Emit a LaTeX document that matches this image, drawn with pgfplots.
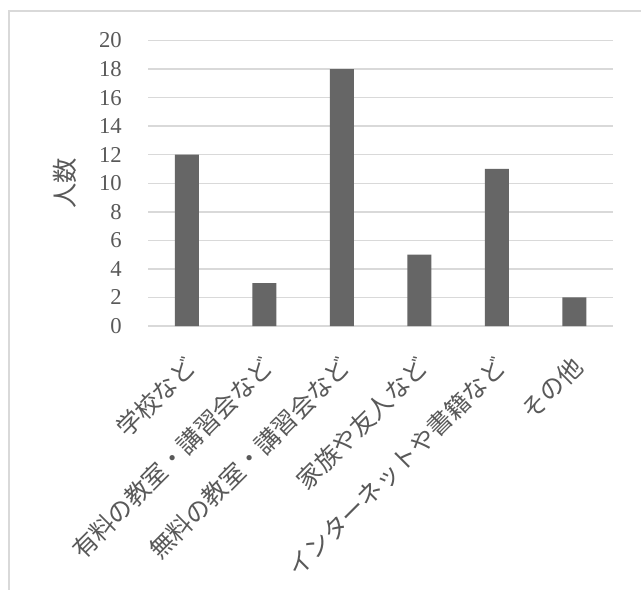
\documentclass[border=0pt]{standalone}
\usepackage{fontspec}
\setmainfont{Liberation Serif}
\newfontfamily\jp{Noto Sans CJK JP}
\usepackage{pgfplots}
\pgfplotsset{compat=1.18}
\definecolor{bargray}{RGB}{102,102,102}
\definecolor{gridgray}{RGB}{217,217,217}
\definecolor{txtgray}{RGB}{89,89,89}
\definecolor{framegray}{RGB}{217,217,217}
\begin{document}
\begin{tikzpicture}
\useasboundingbox (0,0) rectangle (480.75pt,441.75pt);
\fill[white] (0,0) rectangle (480.75pt,441.75pt);
\draw[framegray, line width=1.5pt] (7pt,-2pt) -- (7pt,433.25pt) -- (483pt,433.25pt);
\begin{axis}[
  at={(111pt,197.25pt)}, anchor=south west,
  width=348.75pt, height=214.1pt, scale only axis,
  xmin=-0.5, xmax=5.5, ymin=0, ymax=20,
  ytick={0,2,...,20},
  xtick={0,1,2,3,4,5},
  xticklabels={学校など,有料の教室・講習会など,無料の教室・講習会など,家族や友人など,インターネットや書籍など,その他},
  axis line style={draw=none},
  major tick length=0pt,
  ymajorgrids,
  grid style={gridgray, line width=1.1pt},
  /pgf/number format/assume math mode=true,
  yticklabel style={font=\fontsize{17}{17}\selectfont, text=txtgray, inner sep=0pt, xshift=-19.5pt, anchor=east},
  xticklabel style={font=\jp\fontsize{18.5}{18.5}\selectfont, text=txtgray, inner sep=0pt, xshift=-3pt, yshift=-21pt, rotate=45, anchor=north east},
  ylabel={\jp 人数},
  ylabel style={font=\jp\fontsize{19}{19}\selectfont, text=txtgray, at={(axis description cs:-0.1785,0.5)}, anchor=center},
  clip=false,
]
\addplot[ybar, bar width=18pt, fill=bargray, draw=none] coordinates {(0,12) (1,3) (2,18) (3,5) (4,11) (5,2)};
\end{axis}
\end{tikzpicture}
\end{document}
